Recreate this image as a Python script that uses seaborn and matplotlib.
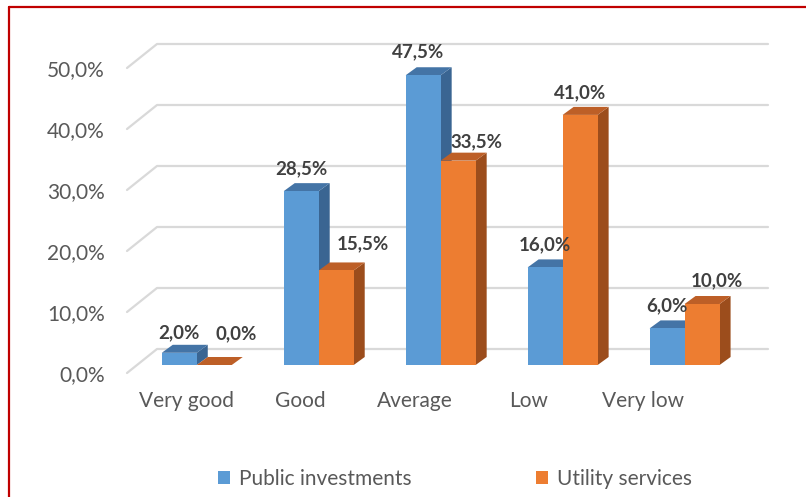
import matplotlib
matplotlib.use("Agg")
import matplotlib.pyplot as plt
import matplotlib.transforms as mtransforms
from matplotlib.patches import Polygon, Rectangle
from matplotlib.lines import Line2D
import pandas as pd
import seaborn as sns

# ---- data -------------------------------------------------------------
categories = ["Very good", "Good", "Average", "Low", "Very low"]
series_names = ["Public investments", "Utility services"]
public_investments = [2.0, 28.5, 47.5, 16.0, 6.0]
utility_services = [0.0, 15.5, 33.5, 41.0, 10.0]
y_ticks = [0, 10, 20, 30, 40, 50]

# ---- style ------------------------------------------------------------
FRONT = {"Public investments": "#5B9BD5", "Utility services": "#ED7D31"}
TOP = {"Public investments": "#4474A6", "Utility services": "#BD5F27"}
SIDE = {"Public investments": "#3A6592", "Utility services": "#9C4D1C"}
GRID = "#D9D9D9"
TEXT = "#595959"
LABEL = "#404040"
BAR_DEPTH = (11, 8)       # pixel depth of each 3D column
WALL_BACK = (20, 16)      # back wall offset from the column front plane
FLOOR_FRONT = (-10, -8)   # front floor edge offset from the column front plane
# (dx, dy) pixel nudges of the value labels, per series
LABEL_NUDGE = {
    "Public investments": [(0, 15), (0, 17), (-5, 18), (0, 17), (0, 17)],
    "Utility services": [(22, 26), (27, 21), (18, 13), (0, 17), (15, 18)],
}

df = pd.DataFrame({
    "category": categories * 2,
    "series": [series_names[0]] * len(categories) + [series_names[1]] * len(categories),
    "value": public_investments + utility_services,
})

sns.set_style("white")
plt.rcParams["font.family"] = ["Lato", "DejaVu Sans"]

W, H = 806, 497
fig = plt.figure(figsize=(W / 100, H / 100), dpi=100)
fig.patch.set_facecolor("white")
ax = fig.add_axes([137 / W, (H - 365) / H, 611 / W, 305 / H])
ax.set_facecolor("none")

sns.barplot(data=df, x="category", y="value", hue="series", order=categories,
            hue_order=series_names, palette=[FRONT[s] for s in series_names],
            width=0.574, errorbar=None, saturation=1, legend=False,
            linewidth=0, edgecolor="none", ax=ax)

ax.set_xlim(-0.49, 4.52)
ax.set_ylim(0, 50)
ax.set_xlabel("")
ax.set_ylabel("")
ax.grid(False)
sns.despine(ax=ax, left=True, bottom=True)

ident = mtransforms.IdentityTransform()


def to_px(x, y):
    return ax.transData.transform((x, y))


# back-wall gridlines with their diagonal run to the front floor edge
xl, xr = ax.get_xlim()
for v in y_ticks:
    fx, fy = to_px(xl, v)
    rx, ry = to_px(xr, v)
    xs = [fx + FLOOR_FRONT[0], fx + WALL_BACK[0], rx + WALL_BACK[0]]
    ys = [fy + FLOOR_FRONT[1], fy + WALL_BACK[1], ry + WALL_BACK[1]]
    ax.add_line(Line2D(xs, ys, color=GRID, lw=1.6, transform=ident,
                       clip_on=False, zorder=0.5))

# 3D side and top faces for every column
ddx, ddy = BAR_DEPTH
for k, (container, name) in enumerate(zip(ax.containers, series_names)):
    for bar in container:
        x0, y0 = to_px(bar.get_x(), bar.get_y())
        x1, y1 = to_px(bar.get_x() + bar.get_width(), bar.get_y() + bar.get_height())
        side = Polygon([(x1, y0), (x1, y1), (x1 + ddx, y1 + ddy), (x1 + ddx, y0 + ddy)],
                       closed=True, facecolor=SIDE[name], edgecolor="none",
                       transform=ident, clip_on=False, zorder=1.9 + k)
        top = Polygon([(x0, y1), (x1, y1), (x1 + ddx, y1 + ddy), (x0 + ddx, y1 + ddy)],
                      closed=True, facecolor=TOP[name], edgecolor="none",
                      transform=ident, clip_on=False, zorder=1.95 + k)
        ax.add_patch(side)
        ax.add_patch(top)
        bar.set_zorder(2 + k)
        bar.set_linewidth(0)
        bar.set_clip_on(False)

# value labels
for container, name in zip(ax.containers, series_names):
    for bar, (ndx, ndy) in zip(container, LABEL_NUDGE[name]):
        v = bar.get_height()
        ax.annotate(f"{v:.1f}".replace(".", ",") + "%",
                    xy=(bar.get_x() + bar.get_width() / 2, v),
                    xytext=(ndx, ndy), textcoords="offset pixels",
                    ha="center", va="baseline", fontsize=13.5, fontweight="bold",
                    color=LABEL, zorder=5, annotation_clip=False)

# axes ticks
ax.set_yticks(y_ticks)
ax.set_yticklabels([f"{v:.1f}".replace(".", ",") + "%" for v in y_ticks])
ax.set_xticks(range(len(categories)))
ax.set_xticklabels(categories)
ax.tick_params(axis="both", length=0, labelsize=15, labelcolor=TEXT)
ax.tick_params(axis="x", pad=19)
ax.tick_params(axis="y", pad=0)
for i, lab in enumerate(ax.get_xticklabels()):
    lab.set_transform(lab.get_transform() + mtransforms.Affine2D().translate(-(10 + 8 * i), 0))

# y labels sit on the front floor edge, right-aligned 22 px left of it
fig.canvas.draw()
axis_left_px = ax.transAxes.transform((0, 0))[0]
for lab in ax.get_yticklabels():
    bb = lab.get_window_extent()
    shift = (axis_left_px + FLOOR_FRONT[0] - 22) - bb.x1
    lab.set_transform(lab.get_transform()
                      + mtransforms.Affine2D().translate(shift, FLOOR_FRONT[1]))

# legend
handles = [Rectangle((0, 0), 1, 1, facecolor=FRONT[s], edgecolor="none") for s in series_names]
fig.legend(handles, series_names, loc="center", bbox_to_anchor=(455 / W, 1 - 479 / H),
           ncol=2, frameon=False, fontsize=15, labelcolor=TEXT,
           handlelength=0.58, handleheight=0.58, handletextpad=0.4, columnspacing=6.0)

# red frame on the left and top edges
fig.add_artist(Line2D([9 / W, 9 / W], [0, 1 - 7 / H], color="#C00000", lw=1.6,
                      transform=fig.transFigure))
fig.add_artist(Line2D([9 / W, 1], [1 - 7 / H, 1 - 7 / H], color="#C00000", lw=1.6,
                      transform=fig.transFigure))

fig.savefig("out.png", dpi=100, facecolor="white")
